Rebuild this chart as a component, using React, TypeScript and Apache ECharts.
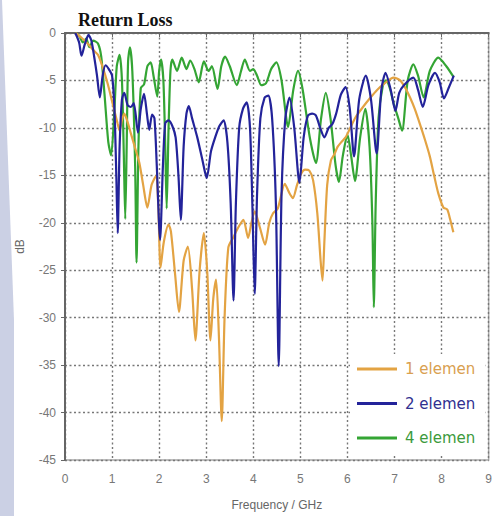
import React, { useEffect, useRef } from "react";
import * as echarts from "echarts";

// [frequency GHz, dB]
const elemen1: [number, number][] = [
  [0.22, 0], [0.35, -0.5], [0.5, -1.2], [0.6, -1.8], [0.7, -2.3], [0.8, -3.6], [0.91, -5.4], [0.98, -6.8],
  [1.05, -8.2], [1.12, -9.6], [1.16, -10.3], [1.21, -9.2], [1.26, -8.5], [1.33, -9.4], [1.4, -10.6], [1.5, -12.3],
  [1.58, -13.7], [1.66, -16], [1.75, -18.4], [1.84, -16], [1.93, -15.1], [1.98, -18], [2.03, -24.7], [2.1, -22],
  [2.2, -20.2], [2.25, -20.9], [2.34, -25.5], [2.42, -29.4], [2.52, -24], [2.61, -22.5], [2.7, -27], [2.77, -32.4],
  [2.86, -25], [2.95, -21.1], [3.02, -25], [3.09, -32.4], [3.15, -28], [3.21, -26], [3.27, -32], [3.33, -40.9],
  [3.39, -30], [3.47, -22.6], [3.58, -21.5], [3.68, -20.5], [3.79, -19.7], [3.89, -21.6], [3.96, -20], [4.03, -18.8],
  [4.14, -20.5], [4.25, -22.3], [4.34, -20], [4.42, -19], [4.52, -18.5], [4.67, -15.9], [4.76, -16.8], [4.84, -17.4],
  [4.93, -16], [5.02, -14.8], [5.1, -14.4], [5.19, -14.5], [5.27, -15.5], [5.36, -19], [5.43, -24], [5.47, -26.1],
  [5.51, -22], [5.57, -16], [5.65, -13.4], [5.72, -12.8], [5.79, -12], [5.87, -11.5], [5.96, -11], [6.06, -10],
  [6.17, -8.9], [6.33, -7.8], [6.49, -6.8], [6.63, -6], [6.77, -5.4], [6.98, -4.7], [7.12, -5], [7.23, -5.8],
  [7.33, -6.8], [7.43, -8], [7.54, -9.6], [7.65, -11.3], [7.75, -13], [7.84, -15], [7.93, -16.9], [8.04, -18.4],
  [8.12, -18.6], [8.18, -19.6], [8.25, -21],
];

const elemen2: [number, number][] = [
  [0.22, 0], [0.3, -1.0], [0.35, -2.4], [0.42, -1.2], [0.5, -0.2], [0.56, -0.8], [0.62, -2.5], [0.68, -4.5],
  [0.74, -6.8], [0.8, -4.5], [0.86, -3.4], [0.93, -3.8], [1.0, -4.5], [1.05, -8], [1.09, -15], [1.12, -21.1],
  [1.16, -12], [1.21, -7], [1.26, -6.3], [1.33, -7.6], [1.4, -7.8], [1.46, -7.4], [1.55, -10.5], [1.61, -8],
  [1.68, -6.4], [1.74, -8.5], [1.79, -10.2], [1.85, -8.6], [1.9, -9], [1.95, -14], [2.02, -21.8], [2.08, -14],
  [2.13, -9.5], [2.2, -9.2], [2.28, -9.8], [2.35, -11], [2.41, -15], [2.46, -19.7], [2.52, -12], [2.58, -8.5],
  [2.63, -7.7], [2.7, -9], [2.81, -11], [2.92, -13.4], [3.01, -15.3], [3.1, -12.5], [3.19, -11], [3.28, -9.8],
  [3.37, -9.2], [3.45, -11.5], [3.52, -18], [3.58, -28.2], [3.63, -18], [3.7, -10], [3.78, -8], [3.86, -7.3],
  [3.93, -10], [3.98, -18], [4.03, -27.5], [4.08, -17], [4.15, -9], [4.24, -6.8], [4.32, -6.6], [4.4, -9],
  [4.48, -18], [4.54, -35.1], [4.6, -17], [4.68, -9], [4.77, -6.8], [4.87, -10], [4.98, -15.8], [5.07, -11],
  [5.16, -8.7], [5.25, -8.5], [5.33, -8.7], [5.42, -10], [5.51, -11], [5.6, -10], [5.68, -9.6], [5.76, -8.5],
  [5.86, -6.5], [5.96, -5.7], [6.05, -8], [6.14, -13], [6.25, -7], [6.39, -4.5], [6.5, -7], [6.62, -12.7],
  [6.72, -6], [6.81, -4.2], [6.92, -6], [7.02, -8.2], [7.1, -6.3], [7.2, -5.5], [7.4, -4.7], [7.5, -6],
  [7.6, -7.8], [7.72, -5.5], [7.86, -4.2], [7.96, -5.2], [8.05, -6.9], [8.15, -5.8], [8.26, -4.5],
];

const elemen4: [number, number][] = [
  [0.22, 0], [0.3, -0.3], [0.38, -1.0], [0.45, -0.6], [0.52, -1.5], [0.6, -0.8], [0.7, -1.1], [0.77, -2.5],
  [0.84, -6.5], [0.92, -11.5], [0.98, -12.9], [1.05, -8], [1.1, -3.5], [1.16, -2.3], [1.21, -5], [1.25, -13],
  [1.28, -19.6], [1.31, -12], [1.34, -3], [1.38, -1.5], [1.43, -4], [1.49, -14], [1.52, -24.2], [1.56, -12],
  [1.61, -5.8], [1.68, -5.4], [1.75, -3.5], [1.82, -3.1], [1.88, -4.5], [1.96, -6.7], [2.0, -4], [2.04, -2.8],
  [2.09, -5], [2.13, -12], [2.16, -18.5], [2.2, -10], [2.24, -4], [2.28, -2.8], [2.38, -4.0], [2.48, -2.6],
  [2.58, -3.8], [2.66, -2.9], [2.75, -3.8], [2.84, -5.2], [2.95, -3.0], [3.05, -4.0], [3.12, -3.5], [3.24, -5.9],
  [3.32, -3.5], [3.4, -2.5], [3.5, -3.5], [3.65, -5.5], [3.74, -4], [3.82, -2.8], [3.93, -4], [4.0, -3.8],
  [4.08, -4.5], [4.17, -5.5], [4.27, -5.3], [4.38, -3.8], [4.49, -3.1], [4.6, -5], [4.74, -9.9], [4.85, -6],
  [4.95, -4.0], [5.05, -6], [5.2, -11], [5.33, -13.7], [5.44, -9], [5.54, -6.3], [5.64, -9], [5.75, -14],
  [5.82, -15.7], [5.9, -13], [6.0, -10.7], [6.08, -13], [6.16, -15.6], [6.27, -11], [6.38, -8.0], [6.47, -12],
  [6.53, -20], [6.56, -28.9], [6.6, -18], [6.66, -9], [6.75, -5.6], [6.82, -5.0], [6.9, -5.8], [6.98, -7.4],
  [7.08, -9], [7.16, -10.3], [7.28, -5], [7.4, -3.3], [7.5, -4.5], [7.62, -6.8], [7.75, -4], [7.93, -2.6],
  [8.1, -3.5], [8.25, -4.6],
];

const seriesNames = ["1 elemen", "2 elemen", "4 elemen"];
const seriesColors = ["#E3A343", "#23239A", "#34A534"];
const legendTextColors = ["#D9A050", "#303090", "#3C9A3C"];

export default function App() {
  const ref = useRef<HTMLDivElement>(null);
  useEffect(() => {
    if (!ref.current) return;
    const chart = echarts.init(ref.current, null, { renderer: "svg", width: 495, height: 516 });
    const datasets = [elemen1, elemen2, elemen4];
    chart.setOption({
      animation: false,
      backgroundColor: "#ffffff",
      graphic: [
        {
          type: "polygon",
          z: -10,
          shape: { points: [[0, 0], [2, 0], [14, 320], [14, 516], [0, 516]] },
          style: { fill: "#CBD0E4" },
        },
      ],
      title: {
        text: "Return Loss",
        left: 73,
        top: 6,
        textStyle: {
          fontFamily: "Liberation Serif",
          fontWeight: "bold",
          fontSize: 18,
          color: "#111",
        },
      },
      legend: {
        orient: "vertical",
        left: 350,
        top: 354,
        padding: [6, 10, 8, 7],
        backgroundColor: "#ffffff",
        itemWidth: 40,
        itemHeight: 3,
        itemGap: 16.5,
        icon: "rect",
        data: seriesNames.map((n, i) => ({
          name: n,
          textStyle: { color: legendTextColors[i] },
        })),
        textStyle: {
          fontFamily: "DejaVu Sans",
          fontSize: 15,
          lineHeight: 18,
          padding: [0, 0, 0, 3],
        },
      },
      grid: {
        left: 65,
        top: 33,
        width: 426,
        height: 431,
        show: true,
        borderColor: "#A8A8A8",
        borderWidth: 1.5,
        backgroundColor: "transparent",
      },
      xAxis: {
        type: "value",
        min: 0,
        max: 9,
        interval: 1,
        name: "Frequency / GHz",
        nameLocation: "middle",
        nameGap: 39,
        nameTextStyle: { fontFamily: "Liberation Sans", fontSize: 12, color: "#666" },
        axisLine: { show: true, lineStyle: { color: "#666", width: 2 } },
        axisTick: { show: true, length: 4, lineStyle: { color: "#666" } },
        axisLabel: { fontFamily: "Liberation Sans", fontSize: 12, color: "#777", margin: 13 },
        splitLine: { show: true, lineStyle: { type: [2, 2.5], color: "#777", width: 1.4 } },
      },
      yAxis: {
        type: "value",
        min: -45,
        max: 0,
        interval: 5,
        name: "dB",
        nameLocation: "middle",
        nameGap: 39,
        nameRotate: 90,
        nameTextStyle: { fontFamily: "Liberation Sans", fontSize: 12, color: "#666" },
        axisLine: { show: true, onZero: false, lineStyle: { color: "#666", width: 2 } },
        axisTick: { show: true, length: 4, lineStyle: { color: "#666" } },
        axisLabel: { fontFamily: "Liberation Sans", fontSize: 12, color: "#777", margin: 9 },
        splitLine: { show: true, lineStyle: { type: [2, 2.5], color: "#777", width: 1.4 } },
      },
      series: datasets.map((d, i) => ({
        name: seriesNames[i],
        type: "line",
        data: d,
        showSymbol: false,
        symbol: "none",
        smooth: 0.25,
        lineStyle: { color: seriesColors[i], width: 2.2 },
        itemStyle: { color: seriesColors[i] },
        z: i === 0 ? 3 : i === 1 ? 4 : 2,
      })),
    });
    return () => chart.dispose();
  }, []);
  return (
    <div
      ref={ref}
      style={{ position: "fixed", left: 0, top: 0, width: 495, height: 516 }}
    />
  );
}
